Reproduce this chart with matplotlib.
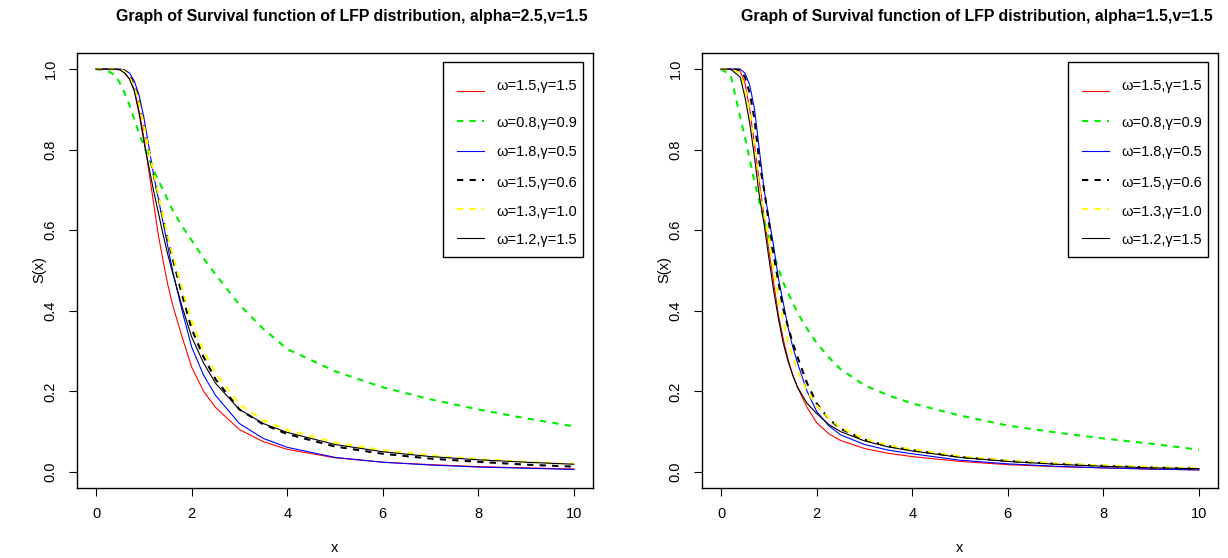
import numpy as np
import matplotlib.pyplot as plt
from matplotlib.patches import Rectangle

plt.rcParams['font.family'] = ['Liberation Sans', 'DejaVu Sans']

# x grid shared by all curves
xs = [0, 0.2, 0.4, 0.5, 0.6, 0.7, 0.8, 0.9, 1.0, 1.1, 1.2, 1.3, 1.4, 1.5, 1.6, 1.8,
      2.0, 2.25, 2.5, 3.0, 3.5, 4.0, 5.0, 6.0, 7.0, 8.0, 9.0, 10.0]

# alpha=2.5, v=1.5
left_curves = {
    'red':   [1, 1, 1.0, 0.999, 0.99, 0.975, 0.95, 0.895, 0.83, 0.75, 0.67, 0.59, 0.525, 0.465, 0.415, 0.335,
              0.26, 0.20, 0.16, 0.105, 0.075, 0.056, 0.035, 0.024, 0.018, 0.013, 0.010, 0.007],
    'green': [1, 0.998, 0.985, 0.965, 0.94, 0.91, 0.875, 0.84, 0.81, 0.78, 0.75, 0.725, 0.70, 0.675, 0.65, 0.61,
              0.575, 0.53, 0.49, 0.415, 0.355, 0.305, 0.25, 0.21, 0.18, 0.155, 0.133, 0.113],
    'blue':  [1, 1, 1.0, 1.0, 0.998, 0.99, 0.97, 0.935, 0.88, 0.81, 0.74, 0.68, 0.62, 0.56, 0.50, 0.40,
              0.31, 0.24, 0.19, 0.12, 0.083, 0.061, 0.036, 0.024, 0.017, 0.012, 0.009, 0.006],
    'black_dash': [1, 1, 1.0, 0.999, 0.995, 0.985, 0.96, 0.92, 0.86, 0.80, 0.74, 0.685, 0.63, 0.58, 0.53, 0.44,
                   0.355, 0.285, 0.23, 0.155, 0.118, 0.094, 0.063, 0.045, 0.033, 0.025, 0.018, 0.013],
    'yellow': [1, 1, 1.0, 0.999, 0.994, 0.98, 0.955, 0.915, 0.86, 0.80, 0.745, 0.69, 0.635, 0.585, 0.54, 0.455,
               0.375, 0.30, 0.245, 0.168, 0.128, 0.104, 0.073, 0.054, 0.041, 0.032, 0.025, 0.020],
    'black': [1, 1, 1.0, 0.998, 0.99, 0.975, 0.945, 0.89, 0.82, 0.76, 0.70, 0.645, 0.59, 0.54, 0.495, 0.41,
              0.335, 0.27, 0.22, 0.155, 0.12, 0.098, 0.068, 0.050, 0.038, 0.030, 0.024, 0.019],
}

# alpha=1.5, v=1.5
right_curves = {
    'red':   [1, 1, 0.995, 0.965, 0.90, 0.81, 0.72, 0.635, 0.55, 0.47, 0.39, 0.33, 0.28, 0.24, 0.21, 0.16,
              0.122, 0.095, 0.078, 0.058, 0.046, 0.038, 0.026, 0.018, 0.013, 0.010, 0.007, 0.005],
    'green': [1, 0.985, 0.88, 0.83, 0.775, 0.72, 0.67, 0.625, 0.58, 0.54, 0.505, 0.47, 0.445, 0.42, 0.395, 0.355,
              0.32, 0.285, 0.255, 0.215, 0.19, 0.17, 0.14, 0.115, 0.098, 0.083, 0.07, 0.055],
    'blue':  [1, 1, 1.0, 0.99, 0.96, 0.90, 0.80, 0.70, 0.63, 0.56, 0.48, 0.42, 0.36, 0.31, 0.27, 0.20,
              0.15, 0.115, 0.092, 0.068, 0.054, 0.045, 0.029, 0.020, 0.014, 0.010, 0.007, 0.005],
    'black_dash': [1, 1, 0.998, 0.98, 0.94, 0.875, 0.77, 0.70, 0.62, 0.54, 0.47, 0.405, 0.36, 0.32, 0.285, 0.22,
                   0.17, 0.132, 0.107, 0.08, 0.064, 0.054, 0.037, 0.027, 0.020, 0.015, 0.011, 0.008],
    'yellow': [1, 1, 0.99, 0.95, 0.89, 0.81, 0.70, 0.64, 0.58, 0.50, 0.435, 0.375, 0.325, 0.285, 0.25, 0.20,
               0.165, 0.135, 0.11, 0.082, 0.066, 0.056, 0.039, 0.028, 0.021, 0.016, 0.012, 0.009],
    'black': [1, 1, 0.98, 0.93, 0.865, 0.78, 0.685, 0.615, 0.53, 0.45, 0.38, 0.32, 0.275, 0.24, 0.21, 0.17,
              0.145, 0.118, 0.10, 0.077, 0.062, 0.052, 0.036, 0.026, 0.019, 0.014, 0.010, 0.008],
}

labels = ['ω=1.5,γ=1.5', 'ω=0.8,γ=0.9', 'ω=1.8,γ=0.5',
          'ω=1.5,γ=0.6', 'ω=1.3,γ=1.0', 'ω=1.2,γ=1.5']
keys = ['red', 'green', 'blue', 'black_dash', 'yellow', 'black']
titles = ['Graph of Survival function of LFP distribution, alpha=2.5,v=1.5',
          'Graph of Survival function of LFP distribution, alpha=1.5,v=1.5']

styles = {
    'red':        dict(color='red', lw=0.8, ls='-'),
    'green':      dict(color='#00ee00', lw=1.5, ls=(0, (3, 3))),
    'blue':       dict(color='blue', lw=0.8, ls='-'),
    'black_dash': dict(color='black', lw=1.5, ls=(0, (3, 3))),
    'yellow':     dict(color='#ffff00', lw=1.5, ls=(0, (3, 3))),
    'black':      dict(color='black', lw=0.8, ls='-'),
}

# legend rows (axes fraction): line y, text y
line_y = [0.9126, 0.8444, 0.7747, 0.708, 0.6414, 0.574]
text_y = [0.9248, 0.839, 0.7724, 0.7018, 0.635, 0.570]

fig = plt.figure(figsize=(12.28, 5.58), dpi=100)
W, H = 1228, 558
boxes = [(77, 593), (702, 1218)]

for i, (curves, title) in enumerate(zip([left_curves, right_curves], titles)):
    l, r = boxes[i]
    ax = fig.add_axes([l / W, 1 - 488 / H, (r - l) / W, (488 - 53) / H])
    for k in keys:
        ax.plot(xs, curves[k], **styles[k])
    ax.set_xlim(-0.4, 10.4)
    ax.set_ylim(-0.04, 1.04)
    ax.set_xticks([0, 2, 4, 6, 8, 10])
    ax.set_yticks([0.0, 0.2, 0.4, 0.6, 0.8, 1.0])
    ax.set_yticklabels(['0.0', '0.2', '0.4', '0.6', '0.8', '1.0'], rotation=90, va='center')
    ax.tick_params(length=6, width=0.8, labelsize=10.5, pad=8)
    for s in ax.spines.values():
        s.set_linewidth(1.0)

    # axis labels and title placed in figure pixels
    fig.text((l + r) / 2 / W, 1 - 548 / H, 'x', ha='center', va='center', fontsize=10.5)
    fig.text((l - 38) / W, 1 - 270 / H, 'S(x)', ha='center', va='center',
             rotation=90, fontsize=10.5)
    fig.text(((l + r) / 2 + 17) / W, 1 - 17 / H, title, ha='center', va='center',
             fontsize=11.4, fontweight='bold')

    # legend box
    ax.add_patch(Rectangle((0.709, 0.531), 0.272, 0.448, transform=ax.transAxes,
                           facecolor='white', edgecolor='black', lw=1.0, zorder=5))
    for k, lab, ly, ty in zip(keys, labels, line_y, text_y):
        ax.plot([0.736, 0.789], [ly, ly], transform=ax.transAxes, zorder=6, **styles[k])
        ax.text(0.812, ty, lab, transform=ax.transAxes, fontsize=10.5, va='center', zorder=6)

fig.savefig('out.png', dpi=100)
